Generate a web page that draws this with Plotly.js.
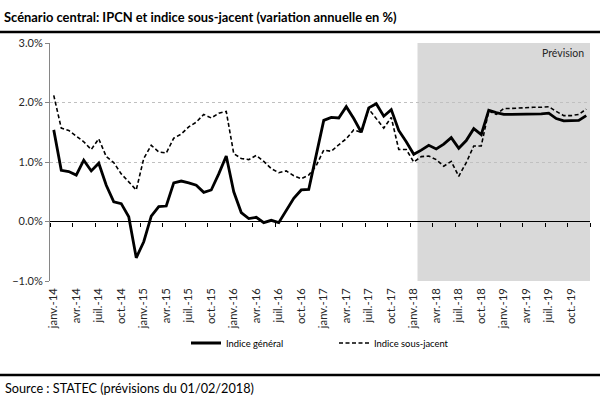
<!DOCTYPE html>
<html>
<head>
<meta charset="utf-8">
<script src="https://cdn.plot.ly/plotly-3.0.1.min.js"></script>
<style>html,body{margin:0;padding:0;background:#fff}#chart{width:600px;height:400px}</style>
</head>
<body>
<div id="chart"></div>
<script>
var monthNames = ["janv.","févr.","mars","avr.","mai","juin","juil.","août","sept.","oct.","nov.","déc."];
var years = ["14","15","16","17","18","19"];
var months = [];
years.forEach(function(y){ monthNames.forEach(function(m){ months.push(m + "-" + y); }); });

var indiceGeneral = [
  1.54, 0.86, 0.84, 0.78, 1.03, 0.85, 0.98, 0.61, 0.33, 0.30, 0.08, -0.61,
  -0.34, 0.09, 0.25, 0.26, 0.65, 0.68, 0.65, 0.61, 0.49, 0.53, 0.80, 1.10,
  0.50, 0.15, 0.05, 0.07, -0.02, 0.02, -0.02, 0.19, 0.39, 0.53, 0.54, 1.12,
  1.70, 1.75, 1.74, 1.93, 1.73, 1.50, 1.91, 1.98, 1.77, 1.88, 1.53, 1.34,
  1.13, 1.20, 1.28, 1.22, 1.30, 1.41, 1.23, 1.36, 1.56, 1.46, 1.87, 1.83,
  1.80, 1.80, 1.80, 1.81, 1.81, 1.81, 1.82, 1.73, 1.69, 1.69, 1.70, 1.78
];
var indiceSousJacent = [
  2.12, 1.57, 1.53, 1.44, 1.34, 1.21, 1.39, 1.09, 0.99, 0.80, 0.66, 0.53,
  1.06, 1.28, 1.17, 1.15, 1.40, 1.47, 1.59, 1.67, 1.80, 1.74, 1.82, 1.85,
  1.14, 1.06, 1.04, 1.11, 1.01, 0.89, 0.82, 0.85, 0.77, 0.72, 0.78, 0.94,
  1.20, 1.18, 1.29, 1.39, 1.54, 1.50, 1.89, 1.73, 1.57, 1.75, 1.21, 1.21,
  1.00, 1.09, 1.10, 1.04, 0.93, 1.01, 0.76, 0.99, 1.27, 1.27, 1.86, 1.80,
  1.90, 1.90, 1.91, 1.91, 1.92, 1.92, 1.93, 1.85, 1.78, 1.78, 1.80, 1.89
];
var forecastStart = "févr.-18";
var tickLabels = months.filter(function(m, i){ return i % 3 === 0; });

var FONT = "Lato, 'Liberation Sans', sans-serif";
var startIdx = months.indexOf(forecastStart);

var traces = [
  {x: months, y: indiceGeneral, type: "scatter", mode: "lines", name: "Indice général",
   line: {color: "#000", width: 2.8}, hoverinfo: "skip"},
  {x: months, y: indiceSousJacent, type: "scatter", mode: "lines", name: "Indice sous-jacent",
   line: {color: "#000", width: 1.6, dash: "4px,2.5px"}, hoverinfo: "skip"},
  {x: [0], y: [null], xaxis: "x2", type: "scatter", mode: "lines", showlegend: false, hoverinfo: "skip"}
];

function py(p){ return (281 - p) / 238; }
function px(p){ return (p - 50) / 540; }

var layout = {
  width: 600, height: 400,
  margin: {l: 50, r: 10, t: 43, b: 119},
  paper_bgcolor: "#fff", plot_bgcolor: "#fff",
  font: {family: FONT, size: 11, color: "#262626"},
  showlegend: true,
  title: {text: "Scénario central: IPCN et indice sous-jacent (variation annuelle en %)",
    x: 4/600, xanchor: "left", xref: "container", y: 1 - 17/400, yanchor: "middle", yref: "container",
    font: {family: FONT, size: 12.9, color: "#000", weight: "bold"}},
  xaxis: {type: "category", range: [-0.5, 71.5], tickmode: "array", tickvals: tickLabels, ticktext: tickLabels,
    tickangle: -90, ticks: "", showline: false, showgrid: false, zeroline: false, ticklabelstandoff: 4,
    tickfont: {family: FONT, size: 11.3, color: "#262626"}, fixedrange: true},
  xaxis2: {overlaying: "x", anchor: "free", position: 0.25, range: [-0.5, 71.5], tickmode: "linear",
    tick0: -0.5, dtick: 3, ticks: "outside", ticklen: 4, tickcolor: "#000", tickwidth: 1,
    showticklabels: false, showline: false, showgrid: false, zeroline: false},
  yaxis: {range: [-1, 3], dtick: 1, tickformat: ".1f", ticksuffix: "%",
    showgrid: true, gridcolor: "#c0c0c0", griddash: "dot", gridwidth: 1,
    showline: true, linecolor: "#868686", linewidth: 1, ticks: "outside", ticklen: 4, tickcolor: "#868686",
    zeroline: true, zerolinecolor: "#000", zerolinewidth: 1.3,
    tickfont: {family: FONT, size: 11, color: "#262626"}},
  legend: {orientation: "h", x: px(186), xanchor: "left", y: py(343), yanchor: "middle",
    font: {family: FONT, size: 9.4, color: "#000"}, entrywidth: 103, bgcolor: "rgba(0,0,0,0)"},
  shapes: [
    {type: "rect", xref: "x", yref: "paper", x0: startIdx - 0.5, x1: 71.5, y0: 0, y1: 1,
     fillcolor: "#d9d9d9", line: {width: 0}, layer: "between"},
    {type: "line", xref: "paper", yref: "paper", x0: px(0), x1: px(600), y0: py(32), y1: py(32),
     line: {color: "#000", width: 2.5}},
    {type: "line", xref: "paper", yref: "paper", x0: px(0), x1: px(600), y0: py(375), y1: py(375),
     line: {color: "#000", width: 2.5}}
  ],
  annotations: [
    {text: "Prévision", xref: "paper", yref: "paper", x: px(586), y: py(53),
     xanchor: "right", yanchor: "middle", showarrow: false, font: {family: FONT, size: 10.5, color: "#262626"}},
    {text: "Source : STATEC (prévisions du 01/02/2018)", xref: "paper", yref: "paper",
     x: px(3), y: py(388), xanchor: "left", yanchor: "middle", showarrow: false,
     font: {family: FONT, size: 12.7, color: "#000"}}
  ]
};

Plotly.newPlot("chart", traces, layout, {displayModeBar: false, staticPlot: true});
</script>
</body>
</html>
